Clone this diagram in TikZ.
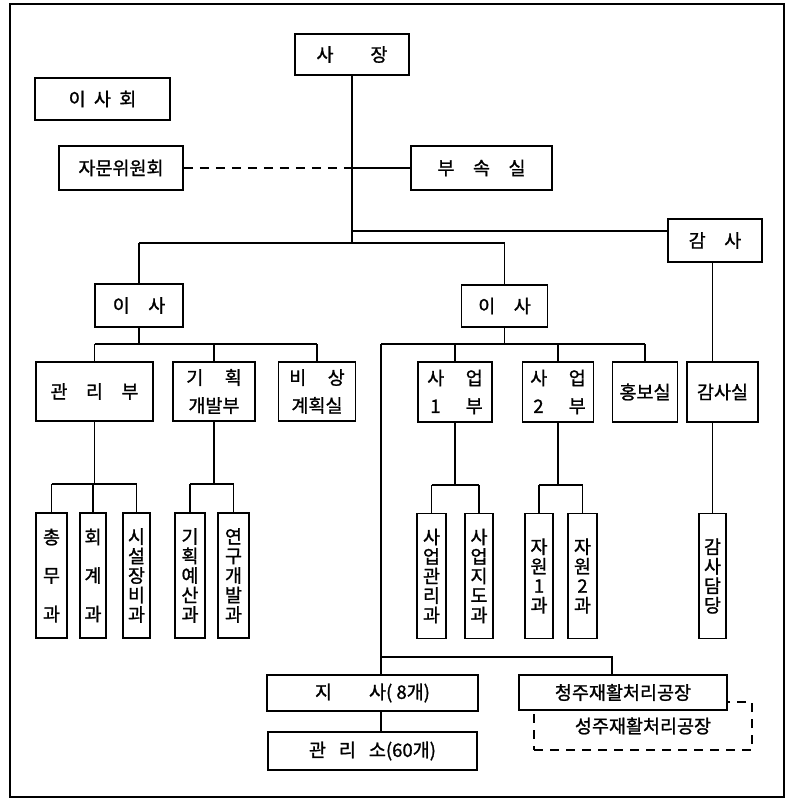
\documentclass[tikz,border=0pt]{standalone}
\usepackage{fontspec}
\newfontfamily\kr[FakeBold=1.2]{Noto Sans CJK KR}
\newcommand{\sprd}[2]{\makebox[3em]{#1\hfill #2}}
\tikzset{
  box/.style={draw, line width=1.6pt, fill=white, inner sep=0pt, align=center,
    font=\kr\fontsize{18.5}{28}\selectfont},
  vbox/.style={box, font=\kr\fontsize{18.5}{19.5}\selectfont},
  conn/.style={line width=1.6pt},
  dashconn/.style={line width=1.6pt, dash pattern=on 9pt off 7pt},
}
\begin{document}
\begin{tikzpicture}[x=1pt,y=-1pt]
\useasboundingbox (0,0) rectangle (791,800);
\draw[line width=1.9pt] (10,4) rectangle (784,797);

% top level
\node[box, minimum width=114pt, minimum height=41pt] (sajang) at (352,54.5) {사\hspace{2em}장};
\node[box, minimum width=135pt, minimum height=42pt] (isahoe) at (102.5,99) {이\hspace{0.45em}사\hspace{0.45em}회};
\node[box, minimum width=124pt, minimum height=44pt] (jamun) at (121,168) {자문위원회};
\node[box, minimum width=141pt, minimum height=44pt] (busok) at (481.5,168) {부\hspace{1em}속\hspace{1em}실};
\node[box, minimum width=94pt, minimum height=43pt] (gamsa) at (715,240.5) {감\hspace{1em}사};

% directors
\node[box, minimum width=88pt, minimum height=43pt] (isaL) at (139,305.5) {이\hspace{1em}사};
\node[box, minimum width=86pt, minimum height=42pt] (isaR) at (504.5,306) {이\hspace{1em}사};

% departments
\node[box, minimum width=117pt, minimum height=59pt] (gwanri) at (94.5,391.5) {관\hspace{1em}리\hspace{1em}부};
\node[box, minimum width=82pt, minimum height=59pt] (gihoek) at (214,391.5) {\sprd{기}{획}\\개발부};
\node[box, minimum width=77pt, minimum height=59pt] (bisang) at (317,391.5) {\sprd{비}{상}\\계획실};
\node[box, minimum width=74pt, minimum height=60pt] (saeop1) at (455,392) {\sprd{사}{업}\\\sprd{\,1}{부}};
\node[box, minimum width=71pt, minimum height=60pt] (saeop2) at (558,392) {\sprd{사}{업}\\\sprd{\,2}{부}};
\node[box, minimum width=65pt, minimum height=60pt] (hongbo) at (645,392) {홍보실};
\node[box, minimum width=71pt, minimum height=60pt] (gamsasil) at (722.5,392) {감사실};

% sections
\node[vbox, minimum width=31pt, minimum height=125pt] (chongmu) at (51.5,575.5) {총\\[19pt]무\\[19pt]과};
\node[vbox, minimum width=26pt, minimum height=125pt] (hoegye) at (93,575.5) {회\\[19pt]계\\[19pt]과};
\node[vbox, minimum width=27pt, minimum height=125pt] (siseol) at (136.5,575.5) {시\\설\\장\\비\\과};
\node[vbox, minimum width=30pt, minimum height=125pt] (yesan) at (190,575.5) {기\\획\\예\\산\\과};
\node[vbox, minimum width=31pt, minimum height=125pt] (yeongu) at (233.5,575.5) {연\\구\\개\\발\\과};
\node[vbox, minimum width=29pt, minimum height=125pt] (sgwanri) at (431.5,576) {사\\업\\관\\리\\과};
\node[vbox, minimum width=28pt, minimum height=125pt] (sjido) at (479,576) {사\\업\\지\\도\\과};
\node[vbox, minimum width=28pt, minimum height=125pt] (jawon1) at (539,576) {자\\원\\1\\과};
\node[vbox, minimum width=29pt, minimum height=125pt] (jawon2) at (582.5,576) {자\\원\\2\\과};
\node[vbox, minimum width=27pt, minimum height=125pt] (gamsadam) at (712.5,576) {감\\사\\담\\당};

% bottom
\node[box, minimum width=211pt, minimum height=36pt] (jisa) at (372.5,693) {지\hspace{2em}사( 8개)};
\node[box, minimum width=209pt, minimum height=38pt] (gwanriso) at (372.5,751) {관\hspace{0.7em}리\hspace{0.7em}소(60개)};
\node[box, dashconn, minimum width=218pt, minimum height=48pt] (seongju) at (643,726) {\raisebox{-5pt}{성주재활처리공장}};
\node[box, minimum width=208pt, minimum height=35pt] (cheongju) at (623,692.5) {청주재활처리공장};

% connectors: top
\coordinate (jn) at (352,168);
\coordinate (gj) at (352,231);
\coordinate (b1) at (352,243);
\draw[conn] (sajang.south) -- (b1);
\draw[dashconn] (jamun.east) -- (jn);
\draw[conn] (jn) -- (busok.west);
\draw[conn] (gj) -- (gamsa.west |- gj);
\draw[conn] (isaL.north |- b1) -- (isaR.north |- b1);
\draw[conn] (isaL.north |- b1) -- (isaL.north);
\draw[conn] (isaR.north |- b1) -- (isaR.north);

% left director
\coordinate (bL) at (139,344);
\draw[conn] (isaL.south) -- (bL);
\draw[conn] (gwanri.north |- bL) -- (bisang.north |- bL);
\foreach \n in {gwanri,gihoek,bisang} \draw[conn] (\n.north |- bL) -- (\n.north);

% right director
\coordinate (t) at (381,344);
\draw[conn] (isaR.south) -- (isaR.south |- t);
\draw[conn] (t) -- (hongbo.north |- t);
\foreach \n in {saeop1,saeop2,hongbo} \draw[conn] (\n.north |- t) -- (\n.north);

% audit
\draw[conn] (gamsa.south -| gamsadam.north) -- (gamsasil.north -| gamsadam.north);
\draw[conn] (gamsasil.south -| gamsadam.north) -- (gamsadam.north);

% section buses
\coordinate (s1) at (94.5,484);
\draw[conn] (gwanri.south) -- (s1);
\draw[conn] (chongmu.north |- s1) -- (siseol.north |- s1);
\foreach \n in {chongmu,hoegye,siseol} \draw[conn] (\n.north |- s1) -- (\n.north);
\coordinate (s2) at (214,484);
\draw[conn] (gihoek.south) -- (s2);
\draw[conn] (yesan.north |- s2) -- (yeongu.north |- s2);
\foreach \n in {yesan,yeongu} \draw[conn] (\n.north |- s2) -- (\n.north);
\coordinate (s3) at (455,485);
\draw[conn] (saeop1.south) -- (s3);
\draw[conn] (sgwanri.north |- s3) -- (sjido.north |- s3);
\foreach \n in {sgwanri,sjido} \draw[conn] (\n.north |- s3) -- (\n.north);
\coordinate (s4) at (558,485);
\draw[conn] (saeop2.south) -- (s4);
\draw[conn] (jawon1.north |- s4) -- (jawon2.north |- s4);
\foreach \n in {jawon1,jawon2} \draw[conn] (\n.north |- s4) -- (\n.north);

% branches
\coordinate (t2) at (381,657);
\coordinate (t3) at (612,657);
\draw[conn] (t) -- (t2) -- (t3) -- (t3 |- cheongju.north);
\draw[conn] (t2) -- (t2 |- jisa.north);
\draw[conn] (t2 |- jisa.south) -- (t2 |- gwanriso.north);
\end{tikzpicture}
\end{document}
